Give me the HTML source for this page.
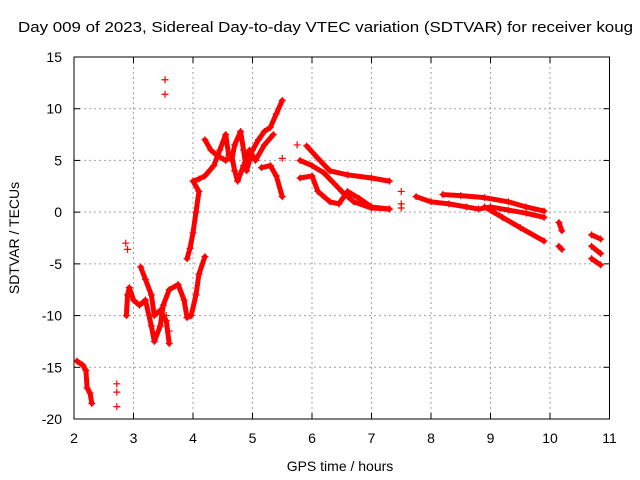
<!DOCTYPE html>
<html><head><meta charset="utf-8"><style>
body{margin:0;background:#fff}
svg{display:block;font-family:"Liberation Sans",sans-serif;font-size:14px}
</style></head><body>
<svg id="c" width="640" height="480">
<text x="18" y="32" textLength="615" lengthAdjust="spacingAndGlyphs" font-size="15">Day 009 of 2023, Sidereal Day-to-day VTEC variation (SDTVAR) for receiver koug</text>
<text x="340" y="471" text-anchor="middle">GPS time / hours</text>
<text transform="translate(19,238) rotate(-90)" text-anchor="middle">SDTVAR / TECUs</text>
<g id="grid"></g>
<g id="ticks"></g>
<g id="marks"></g>
<rect x="74" y="57" width="535.5" height="362" fill="none" stroke="#000" stroke-width="1"></rect>
</svg>
<script>
const xTicks=[2,3,4,5,6,7,8,9,10,11];
const yTicks=[-20,-15,-10,-5,0,5,10,15];
// each track: hours and values
const tA_h=[2.05,2.15,2.2,2.22,2.27,2.3], tA_v=[-14.4,-14.8,-15.3,-17,-17.5,-18.5];
const tB_h=[2.88,2.9,2.93,3.0,3.1,3.2,3.3,3.35,3.45,3.5,3.6,3.75,3.85,3.9,3.97,4.05,4.1,4.2];
const tB_v=[-10,-8,-7.3,-8.5,-9,-8.5,-11,-12.5,-11,-9,-7.5,-7,-8.5,-10.2,-10,-8,-6,-4.3];
const tB2_h=[3.12,3.2,3.3,3.35,3.45,3.55,3.6], tB2_v=[-5.3,-6.5,-8,-10,-9.5,-10.5,-12.7];
const tC_h=[3.9,3.95,4.0,4.05,4.1,4.0,4.1,4.2,4.35,4.45,4.55,4.6,4.65,4.7,4.8,4.85,4.9,5.0,5.1,5.2,5.3,5.4,5.5];
const tC_v=[-4.5,-3.5,-2,0,2,3,3.2,3.5,4.5,6,7.5,5.5,5,6.5,7.8,6,4,6,7,7.8,8.2,9.5,10.8];
const tC2_h=[4.2,4.3,4.4,4.55,4.65,4.7,4.75,4.85,4.95,5.05,5.2,5.35], tC2_v=[7,6,5.5,5,5.5,4,3,4.5,6,5,6.5,7.5];
const tD_h=[5.15,5.3,5.4,5.5], tD_v=[4.3,4.5,3.5,1.5];
const tE1_h=[5.91,6.1,6.3,6.6,7.0,7.3], tE1_v=[6.4,5.2,4.0,3.6,3.3,3.0];
const tE2_h=[5.8,6.0,6.2,6.5,6.7,7.0,7.3], tE2_v=[5,4.5,3.8,2,1,0.4,0.3];
const tE3_h=[5.8,6.0,6.1,6.3,6.45,6.6,6.8,7.0,7.3], tE3_v=[3.3,3.5,2,1,0.8,2,1.3,0.5,0.3];
const tF1_h=[7.75,8,8.3,8.6,8.8,9.0,9.3,9.6,9.9], tF1_v=[1.5,1,0.8,0.5,0.3,0.5,0.2,-0.1,-0.5];
const tF2_h=[8.2,8.5,8.9,9.3,9.6,9.9], tF2_v=[1.7,1.6,1.4,1.0,0.5,0.1];
const tF3_h=[8.9,9.2,9.5,9.9], tF3_v=[0.5,-0.5,-1.5,-2.8];
const tG1_h=[10.15,10.2], tG1_v=[-1,-1.8];
const tG2_h=[10.15,10.2], tG2_v=[-3.3,-3.6];
const tH1_h=[10.7,10.85], tH1_v=[-2.2,-2.6];
const tH2_h=[10.7,10.85], tH2_v=[-3.3,-4];
const tH3_h=[10.7,10.85], tH3_v=[-4.5,-5.1];
const iso_h=[2.72,2.72,2.72,2.87,2.9,3.53,3.53,3.55,3.6,5.5,7.5,7.5,7.5,5.75];
const iso_v=[-16.6,-17.4,-18.8,-3,-3.6,12.8,11.4,-10,-11.5,5.2,2.0,0.8,0.4,6.5];
const tracks=[[tA_h,tA_v],[tB_h,tB_v],[tB2_h,tB2_v],[tC_h,tC_v],[tC2_h,tC2_v],[tD_h,tD_v],[tE1_h,tE1_v],[tE2_h,tE2_v],[tE3_h,tE3_v],[tF1_h,tF1_v],[tF2_h,tF2_v],[tF3_h,tF3_v],[tG1_h,tG1_v],[tG2_h,tG2_v],[tH1_h,tH1_v],[tH2_h,tH2_v],[tH3_h,tH3_v]];

const X=h=>74+(h-2)*59.5;
const Y=v=>57+(15-v)*362/35;
const NS='http://www.w3.org/2000/svg';
function mk(t,a,p){const e=document.createElementNS(NS,t);for(const k in a)e.setAttribute(k,a[k]);p.appendChild(e);return e;}
const grid=document.getElementById('grid'),ticks=document.getElementById('ticks'),marks=document.getElementById('marks');
xTicks.forEach(t=>{const x=X(t);
 if(t>2&&t<11){const g=mk('line',{x1:x,x2:x,y1:57,y2:419,stroke:'#a0a0a0','stroke-dasharray':'2,3'},grid);}
 mk('line',{x1:x,x2:x,y1:419,y2:413,stroke:'#000'},ticks);mk('line',{x1:x,x2:x,y1:57,y2:63,stroke:'#000'},ticks);
 const l=mk('text',{x:x,y:443,'text-anchor':'middle'},ticks);l.textContent=t;
 });
yTicks.forEach(t=>{const y=Y(t);
 if(t>-20&&t<15){const g=mk('line',{x1:74,x2:609.5,y1:y,y2:y,stroke:'#a0a0a0','stroke-dasharray':'2,3'},grid);}
 mk('line',{x1:74,x2:80,y1:y,y2:y,stroke:'#000'},ticks);mk('line',{x1:609.5,x2:603.5,y1:y,y2:y,stroke:'#000'},ticks);
 const l=mk('text',{x:62,y:y+5,'text-anchor':'end'},ticks);l.textContent=t;
 });
function plus(h,v){const x=X(h),y=Y(v);
 const p=mk('path',{d:`M${x-3.5},${y}H${x+3.5}M${x},${y-3.5}V${y+3.5}`,stroke:'#f00','stroke-width':1.2,fill:'none'},marks);
 }
tracks.forEach(([hs,vs])=>{
 const pl=mk('polyline',{points:hs.map((h,i)=>X(h)+','+Y(vs[i])).join(' '),fill:'none',stroke:'#f00','stroke-width':5,'stroke-linejoin':'round','stroke-linecap':'round'},marks);
 
 hs.forEach((h,i)=>plus(h,vs[i]));});
iso_h.forEach((h,i)=>plus(h,iso_v[i]));
</script>
</body></html>
